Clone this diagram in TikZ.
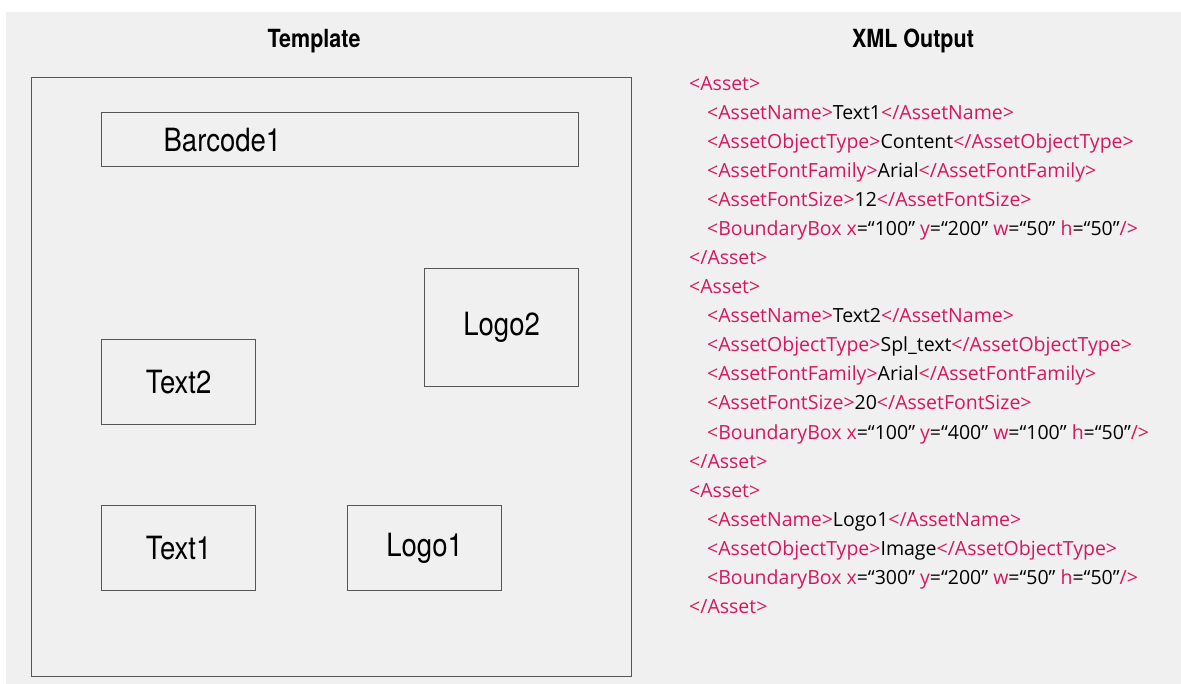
\documentclass[tikz,border=0pt]{standalone}
\usepackage{fontspec}
\setmainfont{Open Sans}
\newfontfamily\boxfont[FakeStretch=0.86]{TeX Gyre Heros}
\usetikzlibrary{positioning}
\definecolor{panel}{HTML}{F0F0F0}
\definecolor{frame}{HTML}{555555}
\definecolor{xmltag}{HTML}{D6175F}
\newcommand\tg[1]{\textcolor{xmltag}{#1}}
\tikzset{
  field/.style={draw=frame,line width=1.2pt,anchor=north west,inner sep=0pt,
    font=\boxfont\fontsize{32}{32}\selectfont},
  title/.style={font=\boxfont\bfseries\fontsize{25}{25}\selectfont},
  xml/.style={anchor=base west,inner sep=0pt,font=\fontsize{19.5}{19.5}\selectfont}
}
\begin{document}
\begin{tikzpicture}[x=1pt,y=-1pt]
\useasboundingbox (0,0) rectangle (1181,684);
\fill[panel] (6,12) rectangle (1181,684);
% titles
\node[title] (tpltitle) at (314,41) {Template};
\node[title] (xmltitle) at (913,41) {XML Output};
% template page with its fields
\node[field,minimum width=600,minimum height=599] (page) at (31,77) {};
\node[field,minimum width=477,minimum height=54] (barcode) at (101,112) {};
\node[field,draw=none,anchor=west] (barcodelbl) at ([xshift=62pt]barcode.west) {Barcode1};
\node[field,minimum width=154,minimum height=118] (logo2) at (424,268) {Logo2};
\node[field,minimum width=154,minimum height=85] (text2) at (101,339) {Text2};
\node[field,minimum width=154,minimum height=85] (text1) at (101,505) {Text1};
\node[field,minimum width=154,minimum height=85] (logo1) at (347,505) {Logo1};
% xml listing
\node[xml] (l0) at (689,91) {\tg{<Asset>}};
\node[xml] (l1) at (707,120) {\tg{<AssetName>}Text1\tg{</AssetName>}};
\node[xml] (l2) at (707,149) {\tg{<AssetObjectType>}Content\tg{</AssetObjectType>}};
\node[xml] (l3) at (707,178) {\tg{<AssetFontFamily>}Arial\tg{</AssetFontFamily>}};
\node[xml] (l4) at (707,207) {\tg{<AssetFontSize>}12\tg{</AssetFontSize>}};
\node[xml] (l5) at (707,236) {\tg{<BoundaryBox x}=“100” \tg{y}=“200” \tg{w}=“50” \tg{h}=“50”\tg{/>}};
\node[xml] (l6) at (689,265) {\tg{</Asset>}};
\node[xml] (l7) at (689,294) {\tg{<Asset>}};
\node[xml] (l8) at (707,323) {\tg{<AssetName>}Text2\tg{</AssetName>}};
\node[xml] (l9) at (707,352) {\tg{<AssetObjectType>}Spl\_text\tg{</AssetObjectType>}};
\node[xml] (l10) at (707,381) {\tg{<AssetFontFamily>}Arial\tg{</AssetFontFamily>}};
\node[xml] (l11) at (707,410) {\tg{<AssetFontSize>}20\tg{</AssetFontSize>}};
\node[xml] (l12) at (707,439) {\tg{<BoundaryBox x}=“100” \tg{y}=“400” \tg{w}=“100” \tg{h}=“50”\tg{/>}};
\node[xml] (l13) at (689,468) {\tg{</Asset>}};
\node[xml] (l14) at (689,497) {\tg{<Asset>}};
\node[xml] (l15) at (707,526) {\tg{<AssetName>}Logo1\tg{</AssetName>}};
\node[xml] (l16) at (707,555) {\tg{<AssetObjectType>}Image\tg{</AssetObjectType>}};
\node[xml] (l17) at (707,584) {\tg{<BoundaryBox x}=“300” \tg{y}=“200” \tg{w}=“50” \tg{h}=“50”\tg{/>}};
\node[xml] (l18) at (689,613) {\tg{</Asset>}};
\end{tikzpicture}
\end{document}
